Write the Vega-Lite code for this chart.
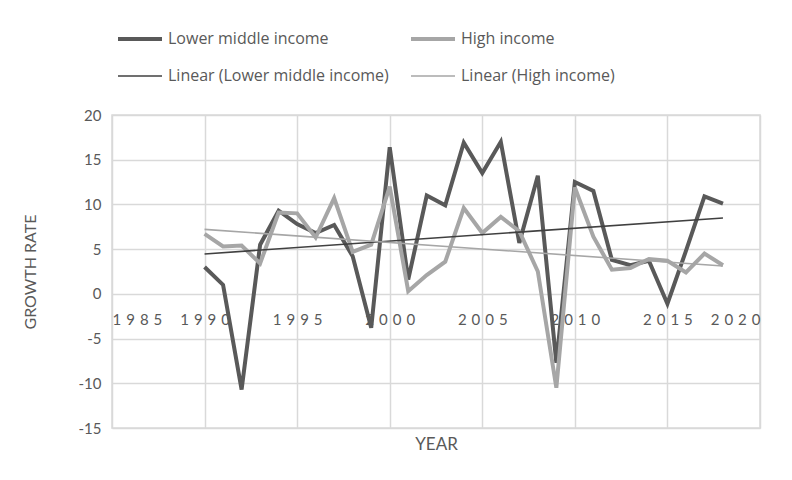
{
  "$schema": "https://vega.github.io/schema/vega-lite/v6.json",
  "width": 648,
  "height": 313,
  "autosize": "none",
  "padding": {"left": 112, "top": 115, "right": 32, "bottom": 52},
  "background": "white",
  "config": {
    "font": "Lato",
    "view": {"stroke": "#d9d9d9", "strokeWidth": 1.5}
  },
  "data": {
    "values": [
      {"year": 1990, "series": "Lower middle income", "trend": "Linear (Lower middle income)", "value": 3.0},
      {"year": 1991, "series": "Lower middle income", "trend": "Linear (Lower middle income)", "value": 1.0},
      {"year": 1992, "series": "Lower middle income", "trend": "Linear (Lower middle income)", "value": -10.7},
      {"year": 1993, "series": "Lower middle income", "trend": "Linear (Lower middle income)", "value": 5.5},
      {"year": 1994, "series": "Lower middle income", "trend": "Linear (Lower middle income)", "value": 9.3},
      {"year": 1995, "series": "Lower middle income", "trend": "Linear (Lower middle income)", "value": 7.8},
      {"year": 1996, "series": "Lower middle income", "trend": "Linear (Lower middle income)", "value": 6.8},
      {"year": 1997, "series": "Lower middle income", "trend": "Linear (Lower middle income)", "value": 7.7},
      {"year": 1998, "series": "Lower middle income", "trend": "Linear (Lower middle income)", "value": 4.2},
      {"year": 1999, "series": "Lower middle income", "trend": "Linear (Lower middle income)", "value": -3.8},
      {"year": 2000, "series": "Lower middle income", "trend": "Linear (Lower middle income)", "value": 16.4},
      {"year": 2001, "series": "Lower middle income", "trend": "Linear (Lower middle income)", "value": 1.6},
      {"year": 2002, "series": "Lower middle income", "trend": "Linear (Lower middle income)", "value": 11.0},
      {"year": 2003, "series": "Lower middle income", "trend": "Linear (Lower middle income)", "value": 9.9},
      {"year": 2004, "series": "Lower middle income", "trend": "Linear (Lower middle income)", "value": 16.9},
      {"year": 2005, "series": "Lower middle income", "trend": "Linear (Lower middle income)", "value": 13.5},
      {"year": 2006, "series": "Lower middle income", "trend": "Linear (Lower middle income)", "value": 17.0},
      {"year": 2007, "series": "Lower middle income", "trend": "Linear (Lower middle income)", "value": 5.7},
      {"year": 2008, "series": "Lower middle income", "trend": "Linear (Lower middle income)", "value": 13.2},
      {"year": 2009, "series": "Lower middle income", "trend": "Linear (Lower middle income)", "value": -7.7},
      {"year": 2010, "series": "Lower middle income", "trend": "Linear (Lower middle income)", "value": 12.5},
      {"year": 2011, "series": "Lower middle income", "trend": "Linear (Lower middle income)", "value": 11.5},
      {"year": 2012, "series": "Lower middle income", "trend": "Linear (Lower middle income)", "value": 3.8},
      {"year": 2013, "series": "Lower middle income", "trend": "Linear (Lower middle income)", "value": 3.2},
      {"year": 2014, "series": "Lower middle income", "trend": "Linear (Lower middle income)", "value": 3.7},
      {"year": 2015, "series": "Lower middle income", "trend": "Linear (Lower middle income)", "value": -1.1},
      {"year": 2016, "series": "Lower middle income", "trend": "Linear (Lower middle income)", "value": 4.8},
      {"year": 2017, "series": "Lower middle income", "trend": "Linear (Lower middle income)", "value": 10.9},
      {"year": 2018, "series": "Lower middle income", "trend": "Linear (Lower middle income)", "value": 10.1},
      {"year": 1990, "series": "High income", "trend": "Linear (High income)", "value": 6.7},
      {"year": 1991, "series": "High income", "trend": "Linear (High income)", "value": 5.3},
      {"year": 1992, "series": "High income", "trend": "Linear (High income)", "value": 5.4},
      {"year": 1993, "series": "High income", "trend": "Linear (High income)", "value": 3.4},
      {"year": 1994, "series": "High income", "trend": "Linear (High income)", "value": 9.1},
      {"year": 1995, "series": "High income", "trend": "Linear (High income)", "value": 9.0},
      {"year": 1996, "series": "High income", "trend": "Linear (High income)", "value": 6.3},
      {"year": 1997, "series": "High income", "trend": "Linear (High income)", "value": 10.7},
      {"year": 1998, "series": "High income", "trend": "Linear (High income)", "value": 4.7},
      {"year": 1999, "series": "High income", "trend": "Linear (High income)", "value": 5.5},
      {"year": 2000, "series": "High income", "trend": "Linear (High income)", "value": 12.0},
      {"year": 2001, "series": "High income", "trend": "Linear (High income)", "value": 0.3},
      {"year": 2002, "series": "High income", "trend": "Linear (High income)", "value": 2.1},
      {"year": 2003, "series": "High income", "trend": "Linear (High income)", "value": 3.6},
      {"year": 2004, "series": "High income", "trend": "Linear (High income)", "value": 9.6},
      {"year": 2005, "series": "High income", "trend": "Linear (High income)", "value": 6.8},
      {"year": 2006, "series": "High income", "trend": "Linear (High income)", "value": 8.6},
      {"year": 2007, "series": "High income", "trend": "Linear (High income)", "value": 7.0},
      {"year": 2008, "series": "High income", "trend": "Linear (High income)", "value": 2.5},
      {"year": 2009, "series": "High income", "trend": "Linear (High income)", "value": -10.5},
      {"year": 2010, "series": "High income", "trend": "Linear (High income)", "value": 11.9},
      {"year": 2011, "series": "High income", "trend": "Linear (High income)", "value": 6.4},
      {"year": 2012, "series": "High income", "trend": "Linear (High income)", "value": 2.7},
      {"year": 2013, "series": "High income", "trend": "Linear (High income)", "value": 2.9},
      {"year": 2014, "series": "High income", "trend": "Linear (High income)", "value": 3.9},
      {"year": 2015, "series": "High income", "trend": "Linear (High income)", "value": 3.7},
      {"year": 2016, "series": "High income", "trend": "Linear (High income)", "value": 2.4},
      {"year": 2017, "series": "High income", "trend": "Linear (High income)", "value": 4.5},
      {"year": 2018, "series": "High income", "trend": "Linear (High income)", "value": 3.2}
    ]
  },
  "encoding": {
    "x": {
      "field": "year",
      "type": "quantitative",
      "scale": {"domain": [1985, 2020], "nice": false, "zero": false},
      "axis": {
        "title": "YEAR",
        "values": [1985, 1990, 1995, 2000, 2005, 2010, 2015, 2020],
        "labelExpr": "join(split(toString(datum.value), ''), '\u2004')",
        "offset": -134.14,
        "domain": false,
        "ticks": false,
        "grid": true,
        "gridColor": "#d9d9d9",
        "gridWidth": 1.5,
        "labelFont": "Lato",
        "labelFontSize": 15,
        "labelColor": "#595959",
        "labelPadding": 19,
        "titleFont": "Lato",
        "titleFontSize": 17,
        "titleFontWeight": "normal",
        "titleColor": "#595959",
        "titleY": 151,
        "titleBaseline": "middle"
      }
    },
    "y": {
      "field": "value",
      "type": "quantitative",
      "scale": {"domain": [-15, 20], "nice": false},
      "axis": {
        "title": "GROWTH RATE",
        "values": [-15, -10, -5, 0, 5, 10, 15, 20],
        "labelExpr": "toString(datum.value)",
        "domain": false,
        "ticks": false,
        "grid": true,
        "gridColor": "#d9d9d9",
        "gridWidth": 1.5,
        "labelFont": "Lato",
        "labelFontSize": 15,
        "labelColor": "#595959",
        "labelPadding": 11,
        "titleFont": "Lato",
        "titleFontSize": 16,
        "titleFontWeight": "normal",
        "titleColor": "#595959",
        "titlePadding": 40
      }
    },
    "color": {
      "field": "series",
      "type": "nominal",
      "scale": {
        "domain": ["Lower middle income", "High income", "Linear (Lower middle income)", "Linear (High income)"],
        "range": ["#595959", "#a6a6a6", "#404040", "#a6a6a6"]
      },
      "legend": {
        "title": null,
        "orient": "none",
        "legendX": 4,
        "legendY": -100,
        "direction": "horizontal",
        "columns": 2,
        "symbolType": "stroke",
        "symbolSize": 1936,
        "labelFont": "Open Sans",
        "labelFontSize": 16,
        "labelColor": "#595959",
        "labelOffset": 4,
        "columnPadding": 14,
        "rowPadding": 6,
        "labelLimit": 400
      }
    },
    "strokeWidth": {
      "field": "series",
      "type": "nominal",
      "scale": {
        "type": "ordinal",
        "domain": ["Lower middle income", "High income", "Linear (Lower middle income)", "Linear (High income)"],
        "range": [4, 4, 1.6, 1.6]
      },
      "legend": {
        "title": null,
        "orient": "none",
        "legendX": 4,
        "legendY": -100,
        "direction": "horizontal",
        "columns": 2,
        "symbolType": "stroke",
        "symbolSize": 1936,
        "labelFont": "Open Sans",
        "labelFontSize": 16,
        "labelColor": "#595959",
        "labelOffset": 4,
        "columnPadding": 14,
        "rowPadding": 6,
        "labelLimit": 400
      }
    },
    "detail": {"field": "series"}
  },
  "layer": [
    {
      "mark": {"type": "line", "strokeJoin": "miter", "strokeCap": "butt"}
    },
    {
      "transform": [
        {"regression": "value", "on": "year", "groupby": ["trend"]},
        {"fold": ["trend"], "as": ["key", "series"]}
      ],
      "mark": {"type": "line"}
    }
  ]
}
